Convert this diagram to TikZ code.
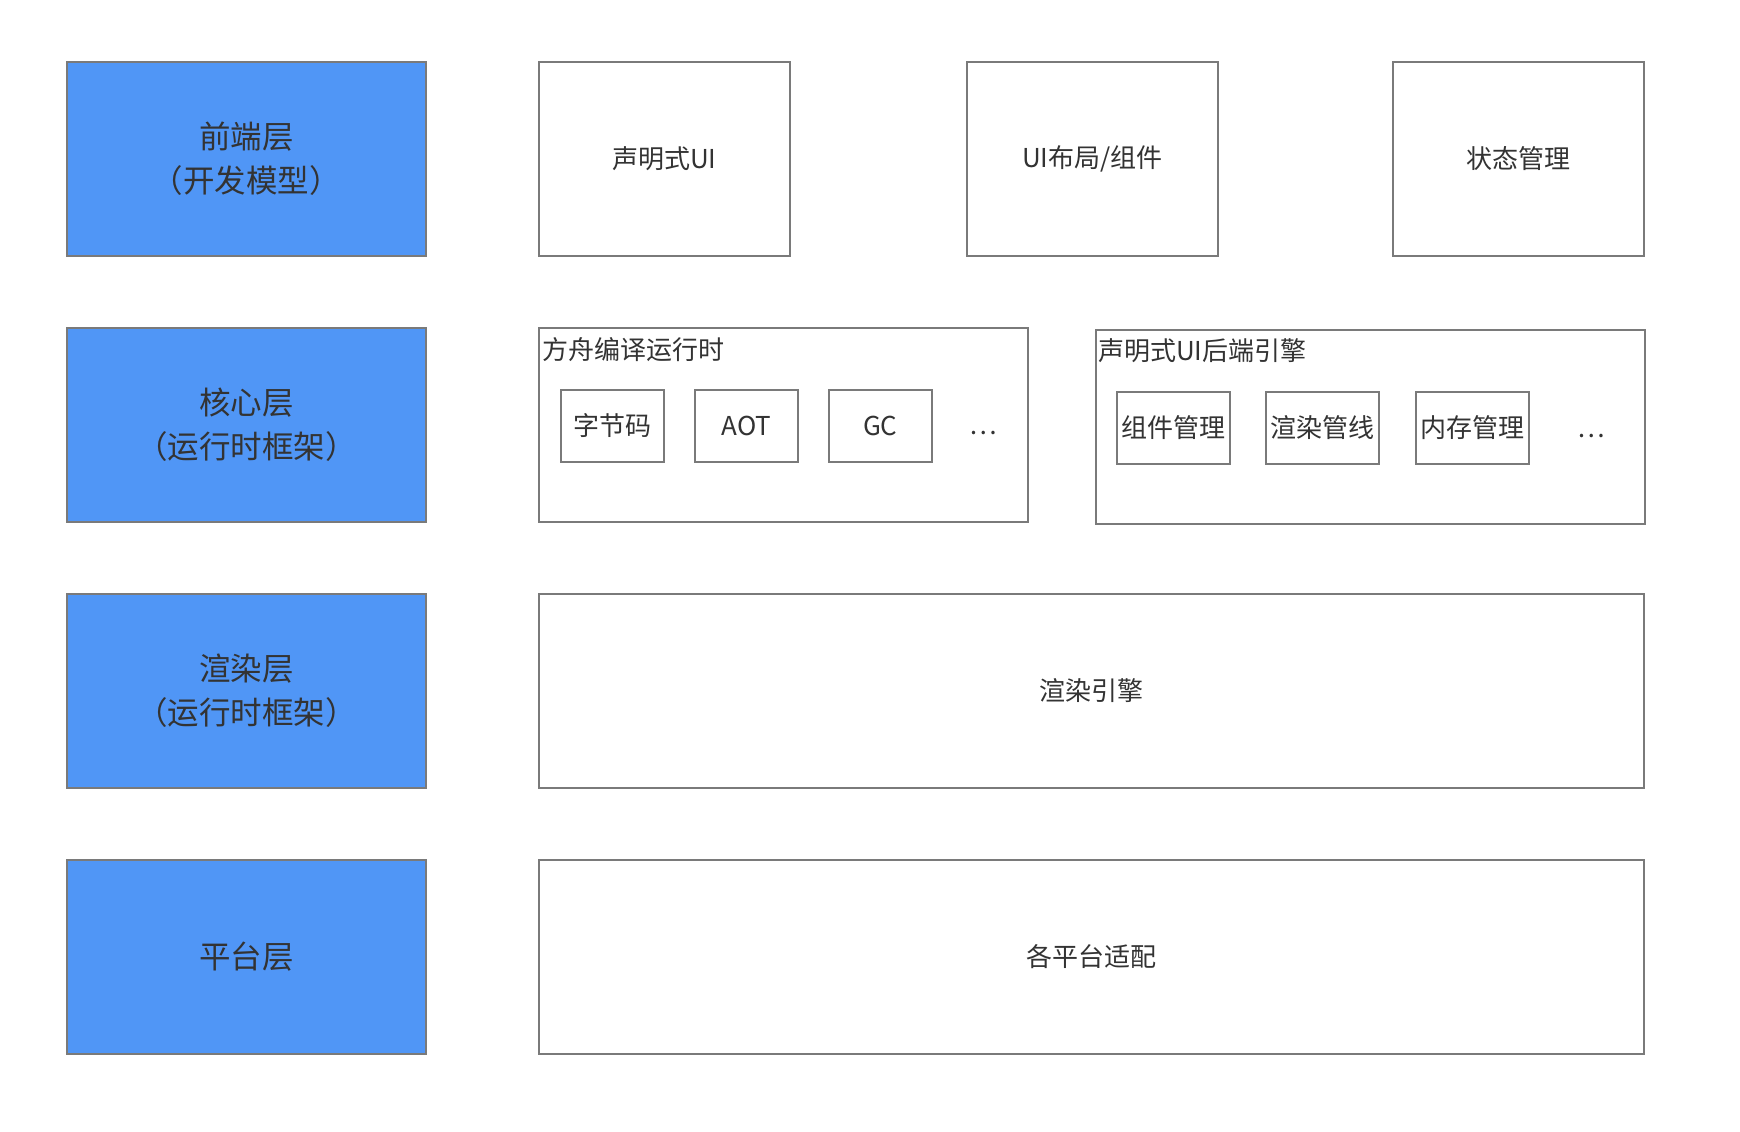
\documentclass[tikz,border=0pt]{standalone}
\usepackage{fontspec}
\setmainfont{Noto Sans CJK SC}
\begin{document}
\begin{tikzpicture}[x=1pt,y=-1pt,
  box/.style={draw=boxgray,line width=1.6pt,anchor=north west,inner sep=0pt,text=txt},
  layer/.style={box,fill=layerblue,align=center},
  item/.style={box,fill=white,align=center},
  ltxt/.style={text=txt,align=center,inner sep=0pt,font=\fontsize{31.5}{44}\selectfont},
  lbl/.style={text=txt,inner sep=0pt,font=\fontsize{26}{30}\selectfont},
]
\definecolor{layerblue}{HTML}{5096F6}
\definecolor{boxgray}{HTML}{7A7A7A}
\definecolor{txt}{HTML}{333333}
\fill[white] (0,0) rectangle (1740,1132);
\useasboundingbox (0,0) rectangle (1740,1132);
% layers
\node[layer,minimum width=359pt,minimum height=194pt] (l1) at (66,61) {};
\node[ltxt] (t1) at (l1.center) {前端层\\（开发模型）};
\node[layer,minimum width=359pt,minimum height=194pt] (l2) at (66,327) {};
\node[ltxt] (t2) at (l2.center) {核心层\\（运行时框架）};
\node[layer,minimum width=359pt,minimum height=194pt] (l3) at (66,593) {};
\node[ltxt] (t3) at (l3.center) {渲染层\\（运行时框架）};
\node[layer,minimum width=359pt,minimum height=194pt] (l4) at (66,859) {};
\node[ltxt] (t4) at (l4.center) {平台层};
% front row
\node[item,minimum width=251pt,minimum height=194pt] (a1) at (538,61) {};
\node[lbl] at (a1.center) {声明式UI};
\node[item,minimum width=251pt,minimum height=194pt] (a2) at (966,61) {};
\node[lbl] at (a2.center) {UI布局/组件};
\node[item,minimum width=251pt,minimum height=194pt] (a3) at (1392,61) {};
\node[lbl] at (a3.center) {状态管理};
% core row
\node[item,minimum width=489pt,minimum height=194pt] (b1) at (538,327) {};
\node[lbl,anchor=west] (b1t) at (542,350) {方舟编译运行时};
\node[item,minimum width=103pt,minimum height=72pt] (b11) at (560,389) {};
\node[lbl] at (b11.center) {字节码};
\node[item,minimum width=103pt,minimum height=72pt] (b12) at (694,389) {};
\node[lbl] at (b12.center) {AOT};
\node[item,minimum width=103pt,minimum height=72pt] (b13) at (828,389) {};
\node[lbl] at (b13.center) {GC};
\node[lbl] (b14) at (983,433) {…};
\node[item,minimum width=549pt,minimum height=194pt] (b2) at (1095,329) {};
\node[lbl,anchor=west] (b2t) at (1098,351) {声明式UI后端引擎};
\node[item,minimum width=113pt,minimum height=72pt] (b21) at (1116,391) {};
\node[lbl] at (b21.center) {组件管理};
\node[item,minimum width=113pt,minimum height=72pt] (b22) at (1265,391) {};
\node[lbl] at (b22.center) {渲染管线};
\node[item,minimum width=113pt,minimum height=72pt] (b23) at (1415,391) {};
\node[lbl] at (b23.center) {内存管理};
\node[lbl] (b24) at (1591,436) {…};
% render row
\node[item,minimum width=1105pt,minimum height=194pt] (c1) at (538,593) {};
\node[lbl] at (c1.center) {渲染引擎};
% platform row
\node[item,minimum width=1105pt,minimum height=194pt] (d1) at (538,859) {};
\node[lbl] at (d1.center) {各平台适配};
\end{tikzpicture}
\end{document}
